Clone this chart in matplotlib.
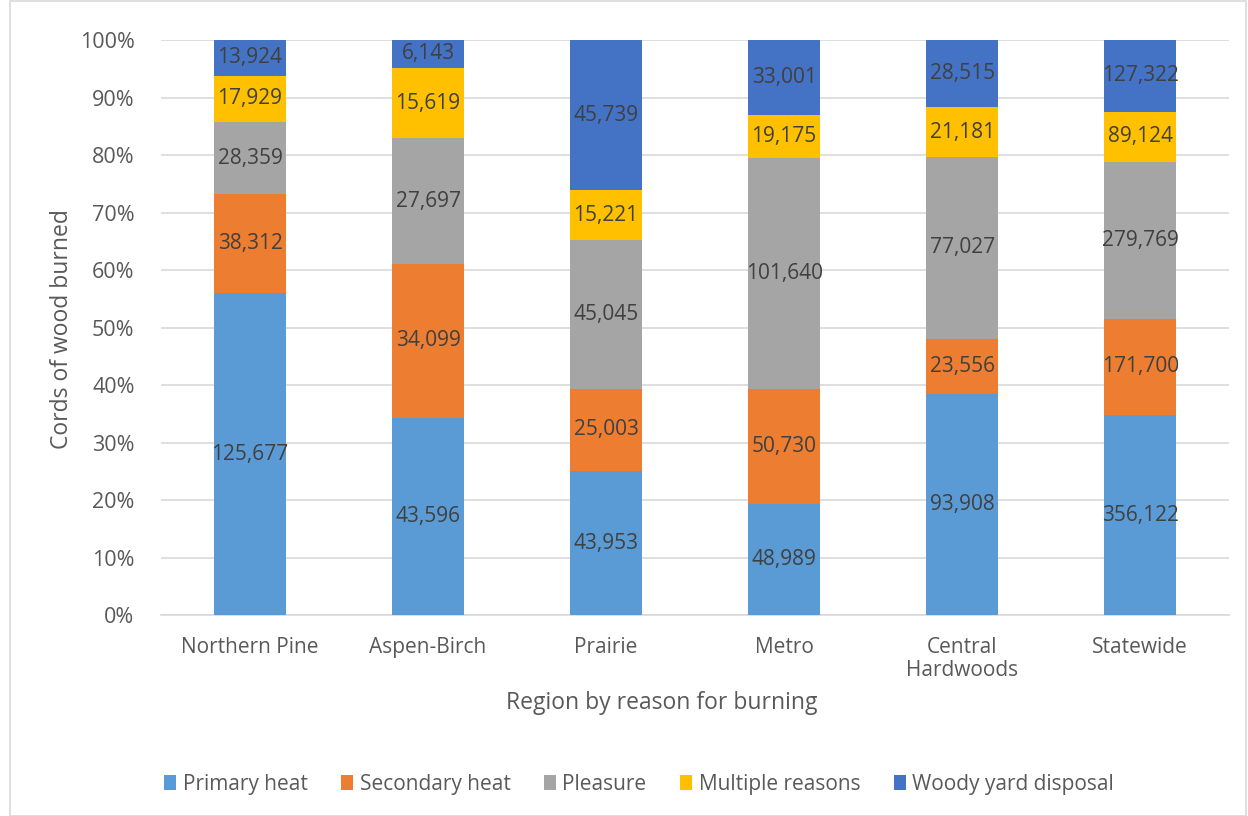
#!/usr/bin/python3
import matplotlib.pyplot as plt
import numpy as np
from matplotlib.patches import Rectangle

REGIONS = ['Northern Pine', 'Aspen-Birch', 'Prairie', 'Metro', 'Central\nHardwoods', 'Statewide']
REASONS = ['Primary heat', 'Secondary heat', 'Pleasure', 'Multiple reasons', 'Woody yard disposal']
PRIMARY = [125677, 43596, 43953, 48989, 93908, 356122]
SECONDARY = [38312, 34099, 25003, 50730, 23556, 171700]
PLEASURE = [28359, 27697, 45045, 101640, 77027, 279769]
MULTIPLE = [17929, 15619, 15221, 19175, 21181, 89124]
WOODY = [13924, 6143, 45739, 33001, 28515, 127322]
COLORS = ['#5B9BD5', '#ED7D31', '#A5A5A5', '#FFC000', '#4472C4']

plt.rcParams['font.family'] = ['Open Sans', 'DejaVu Sans']
TEXT_COLOR = '#595959'

fig = plt.figure(figsize=(12.48, 8.16), dpi=100)
ax = fig.add_axes([0.129, 0.246, 0.856, 0.705])

# chart border
fig.patches.append(Rectangle((0.008, 0.0), 0.99, 0.999, transform=fig.transFigure,
                             fill=False, edgecolor='#D9D9D9', linewidth=1.2))

series = np.array([PRIMARY, SECONDARY, PLEASURE, MULTIPLE, WOODY], dtype=float)
totals = series.sum(axis=0)
shares = series / totals * 100
x = np.arange(len(REGIONS))
bottom = np.zeros(len(REGIONS))
for i, name in enumerate(REASONS):
    ax.bar(x, shares[i], 0.405, bottom=bottom, color=COLORS[i], label=name, zorder=3)
    for j in range(len(REGIONS)):
        ax.text(x[j], bottom[j] + shares[i][j] / 2, '{:,}'.format(int(series[i][j])),
                ha='center', va='center', fontsize=15, color='#404040', zorder=4)
    bottom += shares[i]

ax.set_xlim(-0.5, len(REGIONS) - 0.5)
ax.set_ylim(0, 100)
ax.set_yticks(range(0, 101, 10))
ax.set_yticklabels(['{}%'.format(v) for v in range(0, 101, 10)])
ax.set_xticks(x)
ax.set_xticklabels(REGIONS, linespacing=1.1)
ax.tick_params(axis='both', length=0, labelsize=15, colors=TEXT_COLOR)
ax.tick_params(axis='y', labelsize=15.5)
ax.tick_params(axis='x', pad=16)
ax.tick_params(axis='y', pad=19)
ax.grid(axis='y', color='#D9D9D9', linewidth=1.2, zorder=0)
for side in ['top', 'right', 'left']:
    ax.spines[side].set_visible(False)
ax.spines['bottom'].set_color('#D9D9D9')
ax.spines['bottom'].set_linewidth(1.2)

ax.set_xlabel('Region by reason for burning', fontsize=16.5, color=TEXT_COLOR, va='center')
ax.xaxis.set_label_coords(0.469, -0.153)
ax.set_ylabel('Cords of wood burned', fontsize=16.5, color=TEXT_COLOR, va='center')
ax.yaxis.set_label_coords(-0.0927, 0.497)

fig.legend(loc='center', bbox_to_anchor=(0.512, 0.039), ncol=5, frameon=False,
           fontsize=15, labelcolor=TEXT_COLOR, handlelength=0.6, handleheight=0.7,
           handletextpad=0.3, columnspacing=1.6)

fig.savefig('out.png', dpi=100)
